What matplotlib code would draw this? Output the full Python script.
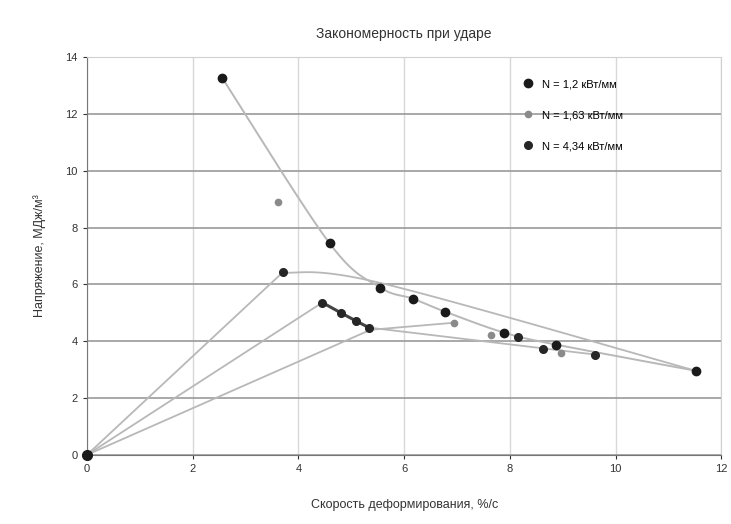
import numpy as np
import matplotlib
matplotlib.use("Agg")
import matplotlib.pyplot as plt

plt.rcParams['font.family'] = ['Liberation Sans', 'DejaVu Sans']

# --- data ---
title = "Закономерность при ударе"
x_label = "Скорость деформирования, %/с"
y_label = "Напряжение, МДж/м³"
labels = ["N = 1,2 кВт/мм", "N = 1,63 кВт/мм", "N = 4,34 кВт/мм"]

# upper curve, big black markers
n1_x = [2.56, 4.59, 5.55, 6.16, 6.77, 7.89, 8.87, 11.51]
n1_y = [13.26, 7.44, 5.89, 5.50, 5.04, 4.30, 3.88, 2.96]

# gray small markers
n2_x = [3.62, 6.94, 7.64, 8.97]
n2_y = [8.89, 4.65, 4.23, 3.60]

# black medium markers
n3_x = [3.70, 4.45, 4.80, 5.08, 5.33, 8.15, 8.63, 9.61]
n3_y = [6.42, 5.36, 5.00, 4.72, 4.48, 4.16, 3.74, 3.53]

# trend lines starting from the origin
ray1_x = [0, 3.70, 5.55, 11.51]
ray1_y = [0, 6.42, 6.05, 2.96]
ray2_x = [0, 4.45, 5.33, 9.61]
ray2_y = [0, 5.36, 4.48, 3.53]
ray3_x = [0, 5.36, 6.94]
ray3_y = [0, 4.40, 4.65]

x_ticks = [0, 2, 4, 6, 8, 10, 12]
y_ticks = [0, 2, 4, 6, 8, 10, 12, 14]


def smooth(xs, ys, n=30):
    # catmull-rom, roughly what excel does for smoothed lines
    p = np.column_stack([xs, ys]).astype(float)
    p = np.vstack([p[0], p, p[-1]])
    out = []
    for i in range(1, len(p) - 2):
        p0, p1, p2, p3 = p[i - 1], p[i], p[i + 1], p[i + 2]
        t = np.linspace(0, 1, n)[:, None]
        c = 0.5 * ((2 * p1) + (-p0 + p2) * t + (2 * p0 - 5 * p1 + 4 * p2 - p3) * t ** 2
                   + (-p0 + 3 * p1 - 3 * p2 + p3) * t ** 3)
        out.append(c)
    c = np.vstack(out)
    return c[:, 0], c[:, 1]


fig = plt.figure(figsize=(7.31, 5.24), dpi=100)
ax = fig.add_axes([0.119, 0.132, 0.868, 0.759])

line_col = "#b8b8b8"
sx, sy = smooth(n1_x, n1_y)
ax.plot(sx, sy, color=line_col, lw=1.4, zorder=2)

# ray 1: straight up to the peak, smooth after it
ax.plot(ray1_x[:2], ray1_y[:2], color=line_col, lw=1.3, zorder=2)
sx, sy = smooth(ray1_x[1:], ray1_y[1:])
ax.plot(sx, sy, color=line_col, lw=1.3, zorder=2)
# rays 2 and 3: plain polylines
ax.plot(ray2_x, ray2_y, color=line_col, lw=1.3, zorder=2)
ax.plot(ray3_x, ray3_y, color=line_col, lw=1.3, zorder=2)
ax.plot(n3_x[1:5], n3_y[1:5], color="#444444", lw=2.2, zorder=3)

ax.plot(n1_x, n1_y, 'o', color="#1a1a1a", ms=6, ls='none', label=labels[0], zorder=4)
ax.plot(n2_x, n2_y, 'o', color="#8a8a8a", ms=4.5, ls='none', label=labels[1], zorder=4)
ax.plot(n3_x, n3_y, 'o', color="#262626", ms=5.5, ls='none', label=labels[2], zorder=4)
ax.plot([0], [0], 'o', color="#1a1a1a", ms=7, zorder=4, clip_on=False)

ax.set_xlim(0, 12)
ax.set_ylim(0, 14)
ax.set_xticks(x_ticks)
ax.set_yticks(y_ticks)
ax.yaxis.grid(True, color="#9a9a9a", lw=1.2)
ax.xaxis.grid(True, color="#d8d8d8", lw=1)
ax.set_axisbelow(True)
for s in ['top', 'right']:
    ax.spines[s].set_color("#d0d0d0")
for s in ['left', 'bottom']:
    ax.spines[s].set_color("#777777")
ax.tick_params(labelsize=8, colors="#333333", length=3)

ax.set_title(title, fontsize=10, color="#333333", pad=14)
ax.set_xlabel(x_label, fontsize=9, color="#333333", labelpad=18)
ax.set_ylabel(y_label, fontsize=9, color="#333333", labelpad=14)

ax.legend(loc='upper right', bbox_to_anchor=(0.86, 0.97), frameon=False,
          fontsize=8, labelspacing=1.9, handletextpad=0.2, markerscale=1.0)

fig.savefig("out.png", dpi=100)
